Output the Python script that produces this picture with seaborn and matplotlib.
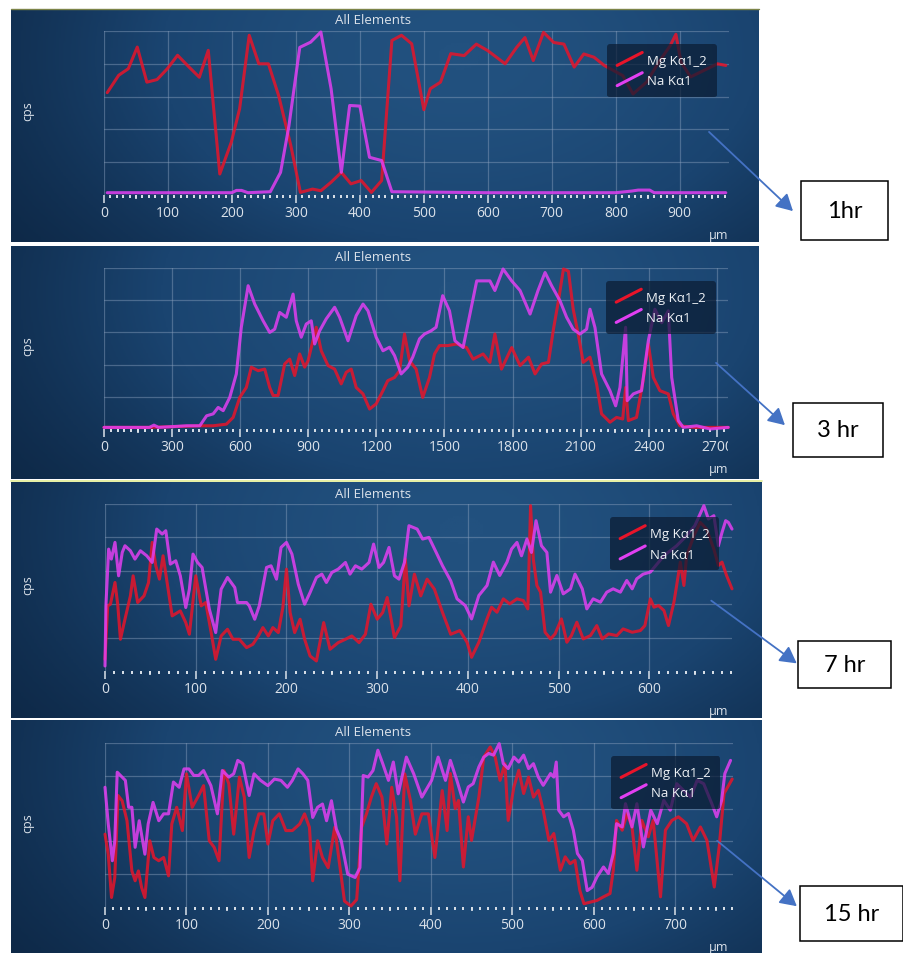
import numpy as np
import matplotlib
matplotlib.use("Agg")
import matplotlib.pyplot as plt
import seaborn as sns
from matplotlib.lines import Line2D
from matplotlib.patches import Rectangle, FancyArrowPatch
from matplotlib.legend_handler import HandlerBase
from matplotlib.colors import LinearSegmentedColormap
from matplotlib.ticker import MultipleLocator
from matplotlib.transforms import Bbox, TransformedBbox

# ---------------- data (cps, normalised to grid units 0-5) ----------------
# 1 hr
mg_x_1h = [5, 23, 38, 52, 67, 83, 99, 115, 133, 149, 163, 181, 199, 212, 227, 242, 257, 273, 292, 307,
           326, 339, 355, 371, 386, 402, 418, 434, 450, 465, 481, 500, 510, 526, 542, 563, 582, 600, 627, 645,
           658, 671, 687, 703, 719, 735, 750, 766, 782, 811, 827, 848, 869, 885, 894, 902, 917, 938, 959, 972]
mg_y_1h = [3.12, 3.65, 3.85, 4.51, 3.44, 3.52, 3.85, 4.26, 3.9, 3.59, 4.41, 0.64, 1.61, 2.63, 4.87, 4.0, 4.0, 3.03, 1.51, 0.08,
           0.18, 0.13, 0.39, 0.69, 0.34, 0.44, 0.08, 0.44, 4.71, 4.87, 4.61, 2.6, 3.24, 3.44, 4.31, 4.25, 4.6, 4.4, 4.0, 4.5,
           4.8, 4.1, 4.96, 4.65, 4.6, 3.9, 4.3, 4.2, 3.95, 3.64, 3.08, 3.44, 4.1, 4.55, 4.9, 4.05, 3.6, 3.8, 4.0, 3.95]
na_x_1h = [5, 100, 200, 207, 215, 225, 260, 276, 289, 306, 323, 339, 355, 371, 384, 400, 415, 434, 450,
           600, 800, 825, 835, 853, 860, 972]
na_y_1h = [0.07, 0.07, 0.07, 0.14, 0.14, 0.07, 0.1, 0.69, 2.1, 4.5, 4.66, 4.97, 3.24, 0.69, 2.73, 2.71, 1.15, 1.05, 0.1,
           0.07, 0.07, 0.12, 0.15, 0.15, 0.07, 0.07]

# 3 hr
mg_x_3h = [0, 200, 422, 481, 539, 569, 598, 627, 649, 679, 708, 730, 745, 767, 796, 818, 840, 862, 884, 899,
           935, 957, 987, 1016, 1045, 1067, 1089, 1111, 1141, 1170, 1199, 1229, 1250, 1280, 1302, 1324, 1346, 1375, 1404, 1434,
           1456, 1478, 1514, 1553, 1597, 1626, 1670, 1700, 1722, 1751, 1796, 1833, 1870, 1899, 1928, 1958, 1980, 2002, 2024, 2046,
           2067, 2089, 2111, 2141, 2170, 2192, 2229, 2258, 2285, 2298, 2310, 2346, 2375, 2398, 2420, 2449, 2486, 2508, 2537, 2600,
           2750]
mg_y_3h = [0.05, 0.05, 0.1, 0.1, 0.15, 0.36, 0.98, 1.29, 1.92, 1.81, 1.86, 1.29, 1.04, 1.04, 2.02, 2.17, 1.66, 2.33, 1.92, 2.12,
           3.16, 2.43, 1.97, 1.86, 1.4, 1.76, 1.86, 1.29, 1.09, 0.62, 0.78, 1.19, 1.5, 1.6, 1.81, 2.95, 2.12, 1.86, 0.98, 1.6,
           2.33, 2.59, 2.59, 2.64, 2.53, 2.17, 2.33, 2.07, 2.95, 1.86, 2.53, 1.97, 2.23, 1.71, 2.02, 2.07, 3.1, 3.98, 4.97, 4.9,
           3.72, 2.95, 2.07, 2.23, 1.4, 0.47, 0.21, 0.36, 0.31, 1.29, 0.26, 0.36, 1.5, 2.64, 1.6, 1.19, 1.09, 0.47, 0.1, 0.05,
           0.05]
na_x_3h = [0, 100, 200, 220, 240, 364, 422, 452, 481, 503, 525, 554, 583, 605, 635, 664, 701, 730, 752, 774,
           803, 833, 847, 869, 891, 913, 928, 950, 979, 1016, 1038, 1075, 1111, 1141, 1163, 1199, 1229, 1258, 1280, 1309,
           1338, 1360, 1390, 1412, 1441, 1463, 1492, 1522, 1546, 1582, 1642, 1700, 1722, 1758, 1796, 1833, 1877, 1912, 1943, 1972,
           2009, 2038, 2067, 2097, 2126, 2141, 2163, 2192, 2229, 2254, 2273, 2298, 2305, 2332, 2368, 2398, 2427, 2457, 2486, 2501,
           2530, 2552, 2611, 2670, 2750]
na_y_3h = [0.05, 0.05, 0.05, 0.12, 0.05, 0.1, 0.1, 0.41, 0.47, 0.67, 0.57, 0.98, 1.71, 3.16, 4.45, 3.88, 3.36, 3.0, 3.1, 3.62,
           3.47, 4.19, 3.36, 2.85, 3.26, 3.36, 2.64, 3.05, 3.42, 3.78, 3.47, 2.74, 3.52, 3.88, 3.67, 2.85, 2.43, 2.54, 2.28, 1.71,
           1.92, 2.23, 2.8, 2.95, 3.05, 3.16, 4.14, 3.67, 2.74, 2.53, 4.6, 4.6, 4.3, 4.97, 4.6, 4.3, 3.57, 4.3, 4.86, 4.45,
           3.98, 3.47, 3.1, 2.95, 3.1, 3.72, 3.15, 1.71, 1.19, 0.72, 1.29, 3.16, 0.88, 1.09, 1.19, 2.74, 3.72, 3.3, 3.67, 1.6,
           0.26, 0.05, 0.1, 0.0, 0.05]

# 7 hr
mg_x_7h = [0, 3, 6, 11, 14, 17, 22, 28, 31, 36, 43, 48, 52, 56, 60, 64, 69, 74, 83, 89,
           93, 100, 106, 111, 117, 122, 128, 135, 141, 148, 156, 163, 169, 174, 180, 185, 191, 196, 200, 204,
           209, 215, 220, 226, 233, 241, 248, 257, 265, 272, 280, 287, 293, 300, 306, 311, 319, 326, 331, 335,
           341, 348, 355, 363, 372, 381,
           391, 399, 404, 412, 421, 426, 432, 439, 446, 454, 461, 466, 469, 472, 476, 480, 485, 491, 496, 503,
           509, 514, 520, 527, 535, 542, 548, 555, 564, 571, 581, 590, 595, 601, 605, 610, 616, 621, 627, 630,
           634, 638, 641, 649, 656, 663, 671, 676, 680, 685, 691]
mg_y_7h = [0.35, 1.95, 2.0, 2.65, 2.0, 0.95, 1.55, 2.25, 2.85, 2.05, 2.25, 2.65, 3.85, 3.15, 2.75, 3.45, 2.55, 1.65, 1.8, 1.45,
           1.1, 2.85, 1.95, 2.05, 1.15, 0.35, 1.05, 1.25, 0.95, 0.95, 0.7, 0.8, 1.05, 1.3, 1.05, 1.3, 1.15, 1.9, 3.05, 1.75,
           1.15, 1.55, 0.95, 0.45, 0.3, 1.45, 0.65, 0.85, 0.95, 1.05, 0.85, 1.1, 2.0, 1.55, 1.75, 2.2, 1.0, 1.35, 3.35, 1.95,
           2.9, 2.25, 2.75, 2.45, 1.75, 1.1,
           1.21, 0.86, 0.41, 0.86, 1.56, 1.91, 1.76, 2.16, 2.01, 2.16, 2.11, 1.86, 4.95, 3.35, 2.56, 2.36, 1.16, 0.96, 1.11, 1.56,
           0.86, 1.06, 1.46, 0.96, 1.06, 1.36, 0.96, 1.11, 1.06, 1.26, 1.16, 1.21, 1.36, 2.16, 1.91, 1.96, 1.81, 1.36, 2.06, 2.56,
           3.26, 2.56, 3.45, 4.05, 4.45, 4.25, 3.65, 3.16, 3.26, 2.86, 2.46]
na_x_7h = [0, 1, 4, 7, 11, 15, 19, 22, 28, 33, 39, 46, 52, 57, 63, 67, 72, 78, 83, 89,
           93, 97, 102, 107, 115, 122, 128, 135, 143, 146, 156, 159, 165, 170, 178, 183, 189, 194, 200, 206,
           213, 220, 226, 233, 239, 244, 250, 257, 265, 270, 276, 283, 291, 296, 302, 307, 313, 319, 324, 330,
           335, 344, 350, 357, 365, 372, 381,
           388, 397, 404, 412, 421, 428, 435, 443, 448, 454, 459, 465, 470, 475, 481, 487, 491, 498, 505, 513,
           518, 526, 531, 538, 546, 553, 560, 568, 575, 581, 586, 593, 601, 616, 630, 641, 650, 660, 665, 671,
           676, 680, 684, 687, 691]
na_y_7h = [0.15, 1.95, 3.65, 3.35, 3.85, 2.85, 3.55, 3.75, 3.6, 3.35, 3.6, 3.45, 3.25, 4.25, 4.1, 4.2, 3.2, 3.3, 2.85, 1.9,
           2.45, 3.5, 3.25, 3.1, 1.85, 1.15, 2.45, 2.8, 2.5, 2.05, 2.05, 1.95, 1.55, 1.95, 3.1, 3.15, 2.75, 3.7, 3.85, 3.5,
           2.6, 2.0, 2.35, 2.8, 2.9, 2.65, 2.95, 3.05, 3.25, 2.9, 3.15, 3.05, 3.25, 3.8, 3.1, 3.25, 3.7, 2.85, 2.75, 3.25,
           4.35, 4.25, 3.95, 4.0, 3.55, 3.15, 2.7,
           2.16, 1.96, 1.56, 2.26, 2.56, 3.26, 2.86, 3.26, 3.65, 3.85, 3.45, 3.95, 3.55, 4.5, 3.75, 3.55, 2.36, 2.86, 2.31, 2.46,
           2.9, 2.46, 1.86, 2.16, 2.06, 2.36, 2.46, 2.36, 2.71, 2.46, 2.76, 2.9, 2.96, 3.45, 3.75, 4.05, 4.35, 4.95, 4.55, 4.65,
           3.75, 4.15, 4.5, 4.45, 4.25]

# 15 hr
mg_x_15h = [0, 4, 8, 12, 16, 21, 27, 33, 37, 41, 45, 49, 55, 60, 66, 72, 78, 82, 88, 95,
            100, 107, 115, 121, 128, 134, 140, 146, 152, 158, 165, 171, 177, 183, 189, 195, 200, 206, 214, 222,
            230, 239, 245, 251, 255, 261, 267, 274, 282, 288, 294, 302, 309, 315, 321, 327, 333, 340, 346, 352,
            358, 362, 368, 375, 381, 389, 397, 405, 414, 420,
            424, 430, 434, 440, 446, 450, 459, 465, 473, 479, 485, 491, 495, 502, 508, 514, 520, 526, 532, 538,
            545, 551, 559, 565, 571, 577, 583, 588, 596, 604, 612, 620, 624, 628, 635, 641, 647, 653, 659, 667,
            673, 682, 688, 696, 704, 714, 722, 731, 739, 748, 754, 760, 770]
mg_y_15h = [2.22, 1.61, 0.29, 0.9, 3.4, 3.24, 2.63, 1.1, 0.8, 1.1, 0.59, 0.29, 2.02, 1.51, 1.41, 1.51, 0.95, 2.53, 3.04, 2.33,
            4.06, 3.04, 3.4, 3.7, 2.02, 1.82, 1.41, 4.16, 3.76, 2.22, 3.96, 3.35, 1.51, 2.33, 2.84, 2.84, 1.92, 2.63, 2.84, 2.33,
            2.33, 2.53, 2.84, 2.43, 0.8, 2.02, 1.51, 1.2, 2.43, 1.31, 0.18, 0.03, 0.23, 2.43, 2.84, 3.35, 3.76, 3.35, 1.92, 3.65,
            2.73, 0.8, 4.06, 3.24, 2.22, 2.84, 2.84, 1.51, 3.55, 2.33,
            4.07, 3.0, 3.25, 1.22, 2.75, 2.03, 3.35, 4.57, 4.88, 4.57, 3.86, 4.37, 2.64, 3.66, 4.17, 3.46, 3.96, 3.35, 3.56, 2.95,
            2.03, 2.24, 1.12, 1.53, 1.32, 1.42, 0.5, 0.1, 0.15, 0.2, 0.31, 0.41, 1.12, 2.64, 2.34, 2.85, 2.44, 1.12, 2.64, 2.14,
            2.64, 0.31, 2.34, 2.64, 2.75, 2.54, 2.03, 2.44, 2.03, 0.61, 1.83, 3.46, 3.9]
na_x_15h = [0, 4, 9, 12, 15, 21, 25, 29, 33, 37, 42, 49, 53, 59, 66, 72, 78, 84, 91, 97,
            103, 109, 115, 121, 130, 138, 144, 152, 158, 163, 169, 177, 183, 191, 200, 208, 216, 224, 230, 237,
            243, 249, 255, 261, 267, 272, 278, 284, 290, 298, 307, 313, 317, 323, 329, 335, 341, 348, 354, 360,
            370, 379, 389, 401, 409, 418,
            424, 432, 440, 446, 452, 459, 465, 471, 477, 484, 489, 495, 502, 508, 514, 520, 526, 532, 538, 547,
            551, 554, 557, 563, 569, 575, 580, 586, 592, 598, 604, 612, 618, 624, 628, 635, 639, 647, 653, 661,
            670, 678, 686, 694, 702, 710, 719, 727, 735, 745, 751, 757, 761, 768]
na_y_15h = [3.65, 2.53, 1.41, 2.02, 4.11, 3.96, 3.86, 3.04, 3.04, 1.82, 2.63, 1.61, 2.53, 3.19, 2.63, 2.84, 2.84, 3.81, 3.65, 4.21,
            4.21, 4.01, 4.01, 4.16, 3.7, 2.84, 4.16, 3.96, 4.06, 4.47, 4.37, 3.4, 4.06, 3.86, 3.7, 3.9, 3.86, 3.65, 3.86, 4.21,
            4.06, 3.86, 2.73, 3.04, 3.14, 2.63, 3.24, 2.38, 2.02, 1.0, 0.9, 1.2, 4.01, 3.96, 4.16, 4.78, 4.37, 3.86, 4.42, 3.45,
            4.57, 4.06, 3.35, 3.86, 4.57, 3.86,
            4.47, 3.86, 3.2, 3.66, 3.76, 4.27, 4.57, 4.68, 4.63, 4.98, 4.37, 4.22, 4.57, 4.42, 4.63, 4.22, 4.37, 3.96, 3.71, 4.07,
            3.96, 4.42, 2.95, 2.75, 2.85, 2.34, 1.63, 1.42, 0.5, 0.6, 0.92, 1.22, 1.02, 1.63, 2.54, 2.44, 3.15, 2.44, 3.15, 1.83,
            2.95, 2.54, 3.25, 2.95, 3.76, 3.56, 3.35, 3.86, 3.76, 3.15, 2.75, 3.25, 4.07, 4.47]

series_labels = ["Mg K\u03b11_2", "Na K\u03b11"]
time_labels = ["1hr", "3 hr", "7 hr", "15 hr"]
x_max = [977, 2749, 691, 771]
x_major = [100, 300, 100, 100]

# ---------------- layout (pixel boxes in the 904 x 954 image) ----------------
W, H = 904, 954
panel_boxes = [(11, 10, 759, 243), (11, 247, 759, 480), (11, 483, 762, 719), (11, 721, 762, 954)]
axes_boxes = [(104, 32, 729, 196), (104, 269, 728, 430), (105, 505, 732, 672), (105, 744, 733, 908)]
label_boxes = [(801, 182, 888, 241), (793, 404, 883, 458), (798, 642, 891, 689), (800, 887, 903, 942)]
arrows = [((707, 131), (795, 214)), ((714, 362), (787, 428)), ((709, 600), (799, 666)), ((715, 840), (799, 909))]

MG_COLOR = "#e8142a"
NA_COLOR = "#e23ff2"
TEXT_COLOR = "#dbe2ea"
GRID_COLOR = "#8aa0bd"
LW = 2.2

sns.set_theme(style="white")
plt.rcParams["font.family"] = ["Open Sans", "DejaVu Sans"]


def rect(box):
    x0, y0, x1, y1 = box
    return [x0 / W, 1 - y1 / H, (x1 - x0) / W, (y1 - y0) / H]


class DiagonalHandler(HandlerBase):
    # legend key drawn as a short rising stroke
    def create_artists(self, legend, orig_handle, xdescent, ydescent, width, height, fontsize, trans):
        line = Line2D([-xdescent, -xdescent + width], [-ydescent - 0.15 * height, -ydescent + 1.25 * height],
                      color=orig_handle.get_color(), lw=orig_handle.get_linewidth(), transform=trans)
        return [line]


bg_cmap = LinearSegmentedColormap.from_list("panel", ["#0e2948", "#1a4470", "#22517f"])
gx, gy = np.meshgrid(np.linspace(0, 1, 300), np.linspace(0, 1, 120))
gradient = np.exp(-(((gx - 0.6) / 0.55) ** 2 + ((gy - 0.2) / 1.1) ** 2))

fig = plt.figure(figsize=(W / 100, H / 100), dpi=100)
fig.patch.set_facecolor("white")

panels = [
    (mg_x_1h, mg_y_1h, na_x_1h, na_y_1h),
    (mg_x_3h, mg_y_3h, na_x_3h, na_y_3h),
    (mg_x_7h, mg_y_7h, na_x_7h, na_y_7h),
    (mg_x_15h, mg_y_15h, na_x_15h, na_y_15h),
]

for i, (mx, my, nx, ny) in enumerate(panels):
    # gradient background panel
    bg = fig.add_axes(rect(panel_boxes[i]))
    bg.imshow(gradient, cmap=bg_cmap, aspect="auto", extent=[0, 1, 0, 1], origin="upper")
    bg.set_axis_off()

    ax = fig.add_axes(rect(axes_boxes[i]))
    ax.set_facecolor("none")
    sns.lineplot(x=mx, y=my, ax=ax, color=MG_COLOR, lw=LW, alpha=0.85, clip_on=False)
    sns.lineplot(x=nx, y=ny, ax=ax, color=NA_COLOR, lw=LW, alpha=0.85, clip_on=False)

    ax.set_xlim(0, x_max[i])
    ax.set_ylim(0, 5)
    ax.set_xticks(np.arange(0, x_max[i], x_major[i]))
    ax.xaxis.set_minor_locator(MultipleLocator(x_major[i] / 10))
    ax.set_yticks([1, 2, 3, 4, 5])
    ax.grid(True, which="major", color=GRID_COLOR, alpha=0.45, lw=0.9)
    for s in ax.spines.values():
        s.set_visible(False)
    ax.tick_params(axis="y", length=0, labelleft=False, left=False)
    ax.tick_params(axis="x", which="both", bottom=True)
    ax.tick_params(axis="x", which="major", direction="out", length=5.5, width=1.1,
                   color=TEXT_COLOR, labelsize=10, labelcolor=TEXT_COLOR, pad=2)
    ax.tick_params(axis="x", which="minor", direction="out", length=1.8, width=1.4, color=TEXT_COLOR)
    ax.set_xlabel("")
    ax.set_ylabel("")

    # half-way ticks slightly longer
    sec = ax.secondary_xaxis("bottom")
    sec.set_xticks(np.arange(x_major[i] / 2, x_max[i], x_major[i]))
    sec.tick_params(axis="x", bottom=True, length=3.2, width=1.2, color=TEXT_COLOR, labelbottom=False)
    for s in sec.spines.values():
        s.set_visible(False)

    # tick labels are cut at the right edge of the plot area
    clip = TransformedBbox(Bbox([[-1, -2], [1.0, 2]]), ax.transAxes)
    for t in ax.xaxis.get_major_ticks():
        t.label1.set_clip_box(clip)
        t.label1.set_clip_on(True)

    handles = [Line2D([], [], color=MG_COLOR, lw=LW), Line2D([], [], color=NA_COLOR, lw=LW)]
    leg = ax.legend(handles, series_labels, loc="upper right", bbox_to_anchor=(0.98, 0.92),
                    handler_map={Line2D: DiagonalHandler()}, fontsize=9.5, labelcolor="#eef2f6",
                    frameon=True, fancybox=True, framealpha=0.72, facecolor="#0b1c33", edgecolor="none",
                    handlelength=1.9, handletextpad=0.35, labelspacing=0.55, borderpad=0.75, borderaxespad=0)

    px0, py0, px1, py1 = panel_boxes[i]
    ax0, ay0, ax1, ay1 = axes_boxes[i]
    fig.text(373 / W, 1 - (py0 + 11) / H, "All Elements", ha="center", va="center",
             fontsize=9.5, color=TEXT_COLOR)
    fig.text(28 / W, 1 - ((ay0 + ay1) / 2 - 3) / H, "cps", ha="center", va="center",
             rotation=90, fontsize=9, color=TEXT_COLOR)
    fig.text(719 / W, 1 - (ay1 + 40) / H, "\u00b5m", ha="center", va="center",
             fontsize=9, color=TEXT_COLOR)

    # white label box with the reaction time
    bx0, by0, bx1, by1 = label_boxes[i]
    fig.add_artist(Rectangle((bx0 / W, 1 - by1 / H), (bx1 - bx0) / W, (by1 - by0) / H,
                             transform=fig.transFigure, facecolor="white", edgecolor="black", lw=1.1))
    fig.text((bx0 + bx1) / 2 / W, 1 - (by0 + by1) / 2 / H, time_labels[i], ha="center", va="center",
             fontsize=17, color="black", family=["Lato", "DejaVu Sans"])

    (sx, sy), (ex, ey) = arrows[i]
    fig.add_artist(FancyArrowPatch((sx / W, 1 - sy / H), (ex / W, 1 - ey / H), transform=fig.transFigure,
                                   arrowstyle="-|>,head_length=1.0,head_width=0.55", mutation_scale=10,
                                   color="#4472c4", lw=1.3))

# thin coloured rules at the top of the first and third screenshots
fig.add_artist(Line2D([11 / W, 759 / W], [1 - 10 / H, 1 - 10 / H], transform=fig.transFigure,
                      color="#7c8448", lw=1.0))
fig.add_artist(Line2D([11 / W, 762 / W], [1 - 481.5 / H, 1 - 481.5 / H], transform=fig.transFigure,
                      color="#e7f0a4", lw=1.4))

fig.savefig("out.png", dpi=100, facecolor="white")
plt.close(fig)
